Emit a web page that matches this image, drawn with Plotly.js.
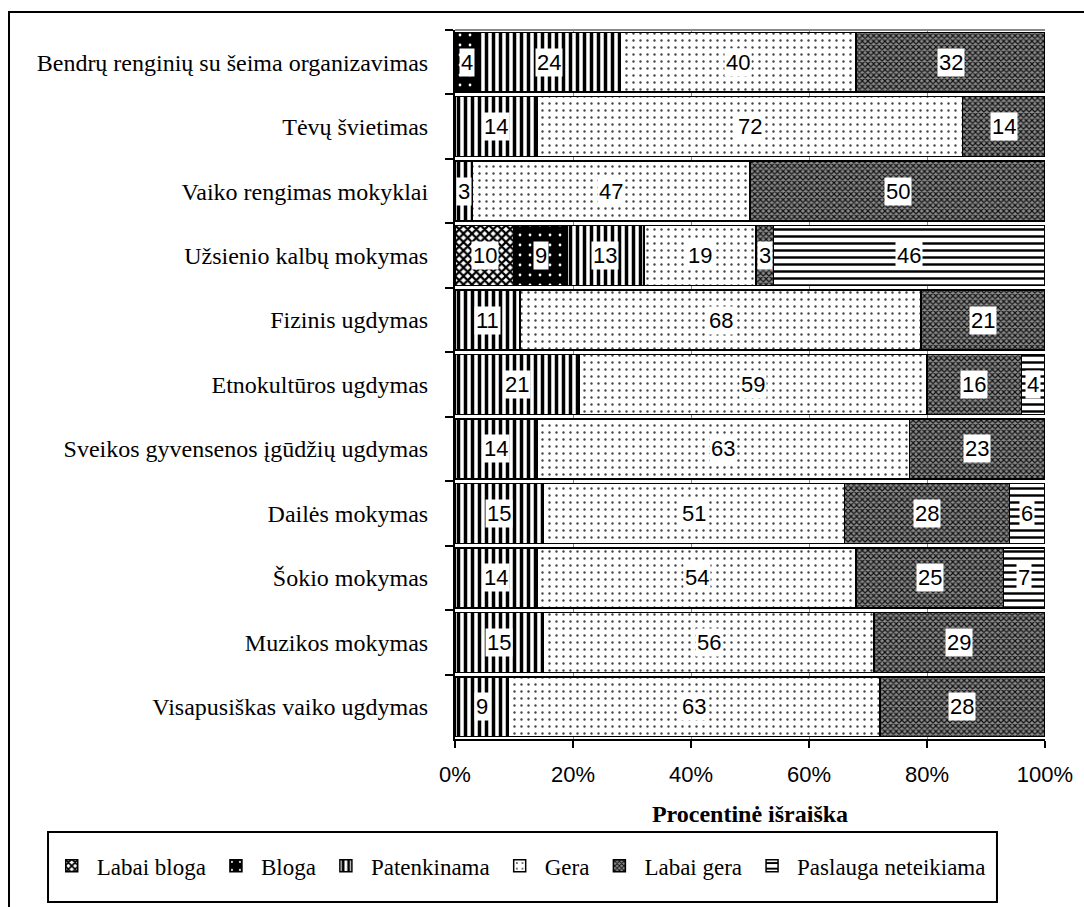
<!DOCTYPE html>
<html>
<head>
<meta charset="utf-8">
<script src="https://cdn.plot.ly/plotly-3.0.1.min.js"></script>
<style>
  html, body { margin: 0; padding: 0; background: #fff; overflow: hidden; }
  #wrap { position: relative; width: 1084px; height: 907px; }
  #chart { width: 1084px; height: 907px; }
  #frame { position: absolute; left: 8px; top: 11px; width: 2000px; height: 2000px;
           border-top: 2px solid #000; border-left: 2px solid #000; pointer-events: none; }
</style>
</head>
<body>
<div id="wrap"><div id="chart"></div><div id="frame"></div></div>
<script>
// Categories, top to bottom
const categories = [
  "Bendrų renginių su šeima organizavimas",
  "Tėvų švietimas",
  "Vaiko rengimas mokyklai",
  "Užsienio kalbų mokymas",
  "Fizinis ugdymas",
  "Etnokultūros ugdymas",
  "Sveikos gyvensenos įgūdžių ugdymas",
  "Dailės mokymas",
  "Šokio mokymas",
  "Muzikos mokymas",
  "Visapusiškas vaiko ugdymas"
];
const seriesNames = ["Labai bloga", "Bloga", "Patenkinama", "Gera", "Labai gera", "Paslauga neteikiama"];
const labaiBloga   = [0, 0, 0, 10, 0, 0, 0, 0, 0, 0, 0];
const bloga        = [4, 0, 0, 9, 0, 0, 0, 0, 0, 0, 0];
const patenkinama  = [24, 14, 3, 13, 11, 21, 14, 15, 14, 15, 9];
const gera         = [40, 72, 47, 19, 68, 59, 63, 51, 54, 56, 63];
const labaiGera    = [32, 14, 50, 3, 21, 16, 23, 28, 25, 29, 28];
const neteikiama   = [0, 0, 0, 46, 0, 4, 0, 6, 7, 0, 0];
const xTickVals = [0, 20, 40, 60, 80, 100];
const xTickText = ["0%", "20%", "40%", "60%", "80%", "100%"];
const xTitle = "Procentinė išraiška";

const seriesValues = [labaiBloga, bloga, patenkinama, gera, labaiGera, neteikiama];
const patterns = [
  {shape: "x", fgcolor: "#000", bgcolor: "#fff", size: 6, solidity: 0.6},
  {shape: ".", fgcolor: "#fff", bgcolor: "#000", size: 10, solidity: 0.06},
  {shape: "|", fgcolor: "#000", bgcolor: "#fff", size: 7, solidity: 0.5},
  {shape: ".", fgcolor: "#444", bgcolor: "#fff", size: 7, solidity: 0.09},
  {shape: "x", fgcolor: "#111", bgcolor: "#8c8c8c", size: 4, solidity: 0.5},
  {shape: "-", fgcolor: "#000", bgcolor: "#fff", size: 7, solidity: 0.35}
];

const traces = seriesValues.map((vals, i) => ({
  type: "bar",
  orientation: "h",
  name: seriesNames[i],
  y: categories,
  x: vals,
  marker: {
    color: patterns[i].bgcolor,
    line: {color: "#000", width: 1.5},
    pattern: Object.assign({fillmode: "replace"}, patterns[i])
  },
  hoverinfo: "skip"
}));

// value labels with white boxes, placed at segment centres
const annotations = [];
const cum = categories.map(() => 0);
seriesValues.forEach(vals => {
  vals.forEach((v, j) => {
    if (v > 0) {
      annotations.push({
        x: cum[j] + v / 2, y: categories[j], xref: "x", yref: "y",
        text: String(v), showarrow: false,
        bgcolor: "#fff", borderpad: 1,
        font: {family: "Liberation Sans, Arial, sans-serif", size: 22, color: "#000"}
      });
    }
    cum[j] += v;
  });
});

const layout = {
  width: 1084, height: 907,
  margin: {l: 455, r: 39, t: 30, b: 168, autoexpand: false},
  paper_bgcolor: "rgba(0,0,0,0)",
  plot_bgcolor: "#fff",
  barmode: "stack",
  bargap: 0.07,
  showlegend: true,
  legend: {
    orientation: "h", xref: "paper", yref: "paper",
    x: -0.692, xanchor: "left", y: -0.179, yanchor: "middle",
    bgcolor: "rgba(0,0,0,0)", borderwidth: 0,
    font: {family: "Liberation Serif, Times New Roman, serif", size: 23, color: "#000"},
    itemwidth: 40, traceorder: "normal"
  },
  xaxis: {
    range: [0, 100], tickvals: xTickVals, ticktext: xTickText,
    showgrid: true, gridcolor: "#888", gridwidth: 1, zeroline: false,
    showline: true, linecolor: "#000", linewidth: 2,
    ticks: "outside", ticklen: 7, tickwidth: 2, tickcolor: "#000",
    ticklabelstandoff: 8,
    tickfont: {family: "Liberation Sans, Arial, sans-serif", size: 22, color: "#000"},
    title: {text: "<b>" + xTitle + "</b>", standoff: 19,
            font: {family: "Liberation Serif, Times New Roman, serif", size: 24, color: "#000"}},
    automargin: false, fixedrange: true
  },
  yaxis: {
    type: "category", autorange: "reversed",
    showgrid: false, showline: true, linecolor: "#000", linewidth: 2,
    tickson: "boundaries", ticks: "outside", ticklen: 8, tickwidth: 2, tickcolor: "#000",
    ticklabelstandoff: 20,
    tickfont: {family: "Liberation Serif, Times New Roman, serif", size: 24, color: "#000"},
    automargin: false, fixedrange: true
  },
  annotations: annotations,
  shapes: [
    {type: "line", xref: "paper", yref: "paper", x0: 0, x1: 1, y0: 1, y1: 1,
     line: {color: "#888", width: 2}},
    {type: "rect", xref: "paper", yref: "paper", x0: -0.6898, x1: 0.9186, y0: -0.2299, y1: -0.1312,
     line: {color: "#000", width: 2}, fillcolor: "rgba(0,0,0,0)"}
  ]
};

Plotly.newPlot("chart", traces, layout, {displayModeBar: false, staticPlot: true});
</script>
</body>
</html>
